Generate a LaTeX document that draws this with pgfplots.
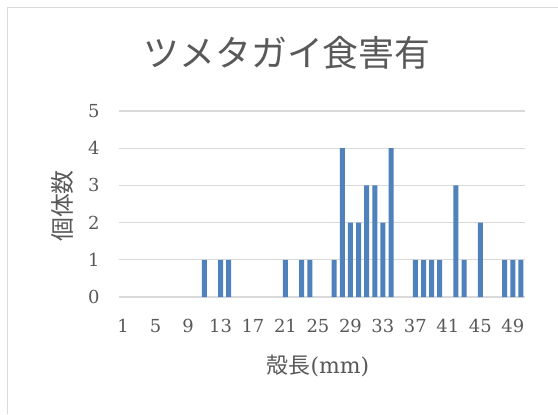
\documentclass[border=0pt]{standalone}
\usepackage{pgfplots}
\pgfplotsset{compat=1.18}
\usepackage{fontspec}
\newfontfamily\cjk{Noto Sans CJK JP}
\newfontfamily\numfont{DejaVu Serif}
\definecolor{barblue}{HTML}{4F81BD}
\definecolor{txtgray}{HTML}{595959}
\definecolor{gridgray}{HTML}{D9D9D9}
\newcommand\tickfont{\numfont\fontsize{18}{21}\selectfont}
\begin{document}
\begin{tikzpicture}[x=1bp,y=1bp]
\useasboundingbox (0,0) rectangle (558,414);
\fill[white] (0,0) rectangle (558,414);
\draw[gridgray, line width=1.5bp] (7.5,0) -- (7.5,406.5) -- (558,406.5);
\begin{axis}[
  at={(119bp,117bp)}, anchor=south west,
  scale only axis, width=406bp, height=186bp,
  xmin=0.5, xmax=50.5, ymin=0, ymax=5,
  ybar, bar width=5bp, bar shift=0pt,
  xtick={1,5,...,49}, ytick={0,...,5},
  xticklabels={1,5,9,13,17,21,25,29,33,37,41,45,49},
  yticklabels={0,1,2,3,4,5},
  major tick length=0pt,
  axis line style={draw=none},
  ymajorgrids, grid style={gridgray, line width=1.2bp},
  yticklabel style={font=\tickfont, text=txtgray, xshift=-16bp},
  xticklabel style={font=\tickfont, text=txtgray, yshift=-19bp},
  clip=false,
]
\addplot[fill=barblue, draw=none] coordinates {
(11,1) (13,1) (14,1) (21,1) (23,1) (24,1) (27,1) (28,4) (29,2) (30,2)
(31,3) (32,3) (33,2) (34,4) (37,1) (38,1) (39,1) (40,1) (42,3) (43,1)
(45,2) (48,1) (49,1) (50,1)
};
\end{axis}
\node[text=txtgray, font=\cjk\fontsize{36}{40}\selectfont] at (287,361) {ツメタガイ食害有};
\node[text=txtgray, rotate=90, font=\cjk\fontsize{24}{28}\selectfont] at (62,208) {個体数};
\node[text=txtgray, font=\fontsize{22}{26}\selectfont] at (318,48) {{\cjk 殻長}{\numfont(mm)}};
\end{tikzpicture}
\end{document}
